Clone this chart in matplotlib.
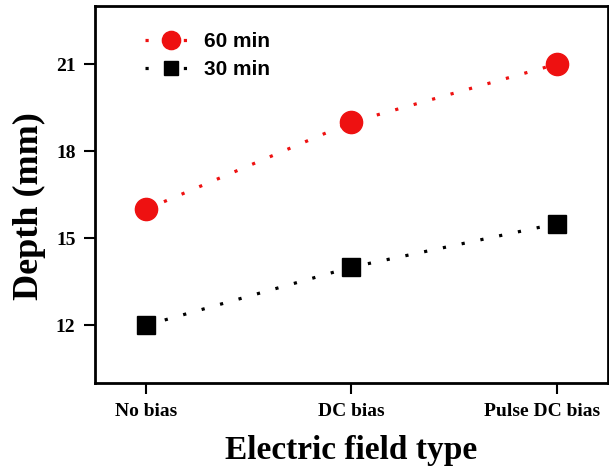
import matplotlib
matplotlib.use("Agg")
import matplotlib.pyplot as plt
from matplotlib.transforms import ScaledTranslation

categories = ["No bias", "DC bias", "Pulse DC bias"]
depth_60 = [16, 19, 21]
depth_30 = [12, 14, 15.5]
yticks = [12, 15, 18, 21]

fig = plt.figure(figsize=(6.09, 4.76), dpi=100)
ax = fig.add_axes([0.156, 0.195, 0.842, 0.792])
x = list(range(len(categories)))

ax.plot(x, depth_60, color="#ee1111", marker="o", markersize=16,
        linestyle=(0, (1, 5)), linewidth=2.3, label="60 min")
ax.plot(x, depth_30, color="black", marker="s", markersize=13,
        linestyle=(0, (1, 5)), linewidth=2.3, label="30 min")

ax.set_xlim(-0.25, 2.25)
ax.set_ylim(10, 23)
ax.set_xticks(x)
ax.set_xticklabels(categories, fontfamily="Liberation Serif", fontweight="bold", fontsize=14)
ax.set_yticks(yticks)
ax.set_yticklabels([str(v) for v in yticks], fontfamily="Liberation Serif", fontweight="bold", fontsize=14)
ax.tick_params(direction="out", length=8, width=1.5, pad=6)
for s in ax.spines.values():
    s.set_linewidth(2)

# shift the last category label left so it stays inside the figure
last = ax.get_xticklabels()[-1]
last.set_transform(last.get_transform() + ScaledTranslation(-14 / 100, 0, fig.dpi_scale_trans))

ax.set_xlabel("Electric field type", fontfamily="Liberation Serif", fontweight="bold", fontsize=24, va="top")
ax.set_ylabel("Depth (mm)", fontfamily="Liberation Serif", fontweight="bold", fontsize=26)
ax.xaxis.set_label_coords(0.5, -0.137)
ax.yaxis.set_label_coords(-0.095, 0.47)

leg = ax.legend(loc="upper left", frameon=False, bbox_to_anchor=(0.097, 0.931),
                borderpad=0, borderaxespad=0, markerscale=0.82,
                prop={"family": "Liberation Sans", "weight": "bold", "size": 15},
                handlelength=2.5, handletextpad=0.35, labelspacing=0.44)

fig.savefig("out.png", dpi=100)
